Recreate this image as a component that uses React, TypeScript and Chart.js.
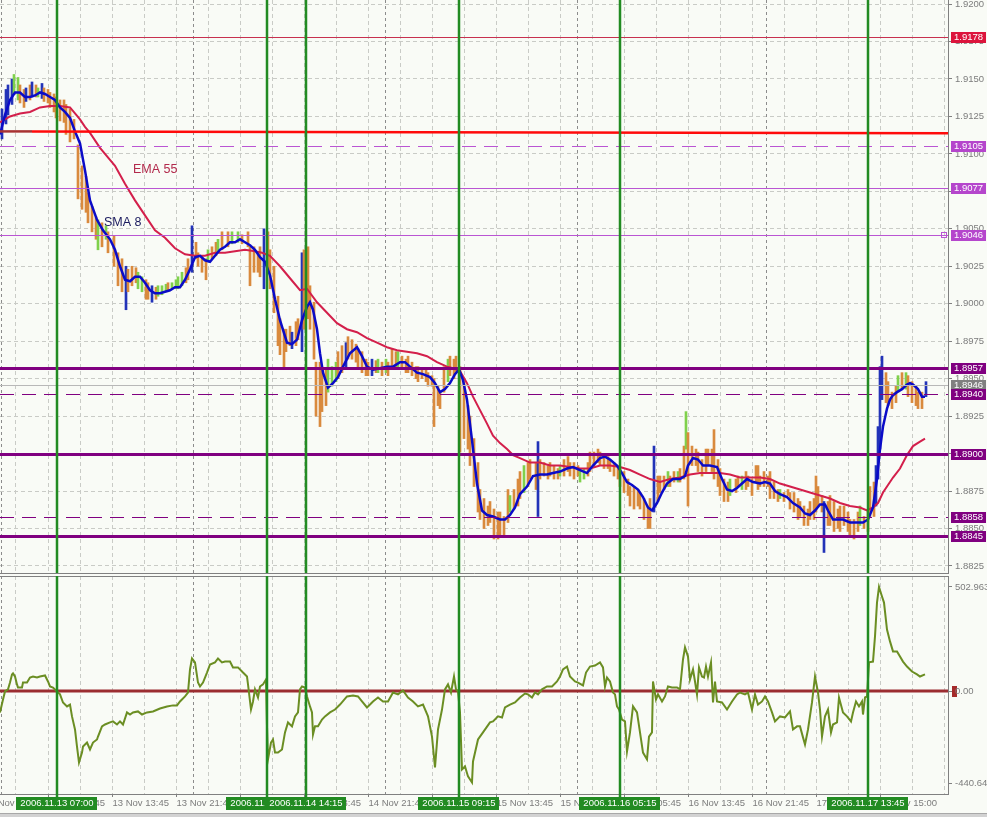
import React, { useEffect, useRef } from "react";
import { Chart, registerables } from "chart.js";
Chart.register(...registerables);

// ---------------- data ----------------
// time axis is in M15 bar units
const X_MIN = 0;
const X_MAX = 474;

// price bars: [bar, high, low, kind]  kind: d = down, u = up, n = navy
const priceBars: [number, number, number, string][] = [
  [1,1.9130,1.9110,"n"],[3,1.9143,1.9120,"n"],[4,1.9146,1.9126,"n"],[6,1.9150,1.9133,"n"],[7,1.9153,1.9140,"u"],
  [9,1.9151,1.9136,"u"],[10,1.9146,1.9134,"d"],[12,1.9143,1.9131,"d"],[13,1.9144,1.9135,"n"],[15,1.9146,1.9136,"d"],
  [16,1.9148,1.9138,"n"],[18,1.9146,1.9138,"d"],[19,1.9144,1.9138,"u"],[21,1.9147,1.9137,"n"],[22,1.9144,1.9135,"d"],
  [24,1.9143,1.9134,"d"],[25,1.9141,1.9131,"d"],[27,1.9140,1.9128,"d"],[28,1.9138,1.9124,"d"],[30,1.9136,1.9122,"d"],
  [32,1.9136,1.9121,"d"],[33,1.9133,1.9113,"d"],[35,1.9130,1.9108,"d"],[37,1.9123,1.9110,"d"],[39,1.9106,1.9070,"d"],
  [41,1.9092,1.9063,"d"],[43,1.9085,1.9061,"d"],[44,1.9074,1.9054,"d"],[46,1.9065,1.9048,"d"],[48,1.9058,1.9043,"d"],
  [49,1.9056,1.9036,"u"],[51,1.9054,1.9038,"d"],[53,1.9052,1.9043,"u"],[54,1.9048,1.9034,"d"],[57,1.9045,1.9025,"d"],
  [59,1.9034,1.9012,"d"],[61,1.9030,1.9008,"d"],[63,1.9025,1.8996,"n"],[64,1.9023,1.9008,"d"],[66,1.9025,1.9012,"d"],
  [68,1.9024,1.9014,"d"],[69,1.9021,1.9010,"u"],[71,1.9018,1.9008,"u"],[73,1.9016,1.9003,"d"],[74,1.9014,1.9003,"d"],
  [76,1.9012,1.9001,"n"],[78,1.9011,1.9003,"d"],[79,1.9012,1.9005,"u"],[81,1.9012,1.9006,"u"],[83,1.9013,1.9008,"u"],
  [84,1.9014,1.9008,"d"],[86,1.9014,1.9010,"u"],[88,1.9016,1.9010,"u"],[89,1.9018,1.9010,"u"],[91,1.9021,1.9012,"u"],
  [93,1.9024,1.9014,"d"],[94,1.9030,1.9016,"d"],[96,1.9052,1.9021,"n"],[98,1.9041,1.9030,"d"],[99,1.9034,1.9025,"d"],
  [101,1.9032,1.9021,"d"],[103,1.9030,1.9016,"d"],[104,1.9036,1.9028,"u"],[106,1.9038,1.9030,"d"],[108,1.9041,1.9032,"d"],
  [109,1.9043,1.9034,"u"],[111,1.9048,1.9036,"d"],[114,1.9048,1.9038,"d"],[116,1.9048,1.9040,"u"],[119,1.9048,1.9041,"u"],
  [121,1.9046,1.9040,"d"],[124,1.9048,1.9038,"d"],[125,1.9038,1.9012,"d"],[127,1.9038,1.9021,"d"],[129,1.9034,1.9021,"d"],
  [130,1.9038,1.9018,"d"],[132,1.9050,1.9010,"n"],[134,1.9048,1.9021,"d"],[135,1.9036,1.9010,"d"],[137,1.9025,1.8994,"d"],
  [139,1.9005,1.8972,"d"],[140,1.8990,1.8966,"d"],[142,1.8983,1.8958,"d"],[143,1.8983,1.8968,"d"],[145,1.8985,1.8972,"d"],
  [146,1.8981,1.8970,"n"],[148,1.8988,1.8972,"d"],[149,1.8990,1.8976,"d"],[151,1.9034,1.8968,"n"],[152,1.9036,1.8983,"d"],
  [154,1.9038,1.8990,"d"],[155,1.9012,1.8983,"d"],[157,1.9001,1.8963,"d"],[158,1.8961,1.8925,"d"],[160,1.8961,1.8918,"d"],
  [161,1.8956,1.8928,"d"],[163,1.8956,1.8932,"d"],[164,1.8963,1.8941,"u"],[166,1.8958,1.8945,"u"],[168,1.8961,1.8948,"u"],
  [169,1.8968,1.8950,"d"],[171,1.8972,1.8954,"d"],[173,1.8974,1.8956,"n"],[174,1.8978,1.8963,"d"],[176,1.8976,1.8963,"d"],
  [178,1.8973,1.8961,"d"],[179,1.8970,1.8956,"d"],[181,1.8968,1.8954,"d"],[183,1.8963,1.8952,"d"],[184,1.8961,1.8952,"d"],
  [186,1.8963,1.8952,"n"],[188,1.8962,1.8954,"d"],[189,1.8963,1.8954,"u"],[191,1.8961,1.8952,"d"],[193,1.8963,1.8954,"u"],
  [194,1.8961,1.8952,"d"],[196,1.8970,1.8956,"d"],[198,1.8968,1.8958,"d"],[199,1.8968,1.8958,"u"],[201,1.8965,1.8956,"d"],
  [203,1.8963,1.8954,"d"],[204,1.8965,1.8954,"d"],[206,1.8961,1.8952,"d"],[208,1.8958,1.8950,"d"],[209,1.8958,1.8948,"d"],
  [211,1.8956,1.8950,"d"],[213,1.8956,1.8948,"d"],[214,1.8954,1.8945,"d"],[216,1.8952,1.8945,"d"],[217,1.8950,1.8918,"d"],
  [219,1.8945,1.8932,"d"],[220,1.8941,1.8930,"d"],[222,1.8958,1.8941,"d"],[224,1.8963,1.8948,"u"],[225,1.8965,1.8952,"d"],
  [227,1.8963,1.8950,"d"],[228,1.8965,1.8954,"d"],[230,1.8958,1.8901,"d"],[232,1.8948,1.8910,"d"],[234,1.8932,1.8903,"d"],
  [235,1.8925,1.8892,"d"],[237,1.8910,1.8878,"d"],[239,1.8894,1.8861,"d"],[240,1.8876,1.8856,"d"],[242,1.8870,1.8850,"d"],
  [244,1.8865,1.8852,"d"],[245,1.8868,1.8854,"d"],[247,1.8863,1.8843,"d"],[249,1.8861,1.8843,"d"],[250,1.8861,1.8845,"d"],
  [252,1.8858,1.8845,"d"],[254,1.8876,1.8854,"d"],[255,1.8872,1.8861,"u"],[257,1.8876,1.8863,"d"],[259,1.8883,1.8865,"d"],
  [260,1.8888,1.8870,"d"],[262,1.8892,1.8874,"u"],[264,1.8894,1.8878,"d"],[265,1.8896,1.8883,"d"],[268,1.8894,1.8876,"d"],
  [269,1.8908,1.8858,"n"],[270,1.8896,1.8883,"d"],[272,1.8894,1.8885,"d"],[274,1.8892,1.8883,"d"],[275,1.8894,1.8885,"d"],
  [277,1.8892,1.8883,"d"],[279,1.8890,1.8883,"d"],[280,1.8892,1.8885,"u"],[282,1.8896,1.8885,"d"],[284,1.8898,1.8888,"d"],
  [285,1.8894,1.8885,"d"],[287,1.8894,1.8883,"d"],[289,1.8892,1.8885,"d"],[290,1.8890,1.8881,"u"],[292,1.8890,1.8883,"u"],
  [294,1.8894,1.8885,"d"],[295,1.8901,1.8888,"d"],[297,1.8901,1.8892,"d"],[299,1.8903,1.8894,"d"],[300,1.8901,1.8892,"d"],
  [302,1.8898,1.8890,"d"],[304,1.8898,1.8890,"d"],[305,1.8896,1.8888,"d"],[307,1.8894,1.8885,"d"],[309,1.8892,1.8883,"d"],
  [310,1.8890,1.8878,"d"],[312,1.8888,1.8874,"d"],[314,1.8883,1.8872,"d"],[315,1.8878,1.8865,"d"],[317,1.8878,1.8863,"d"],
  [319,1.8876,1.8865,"d"],[320,1.8874,1.8863,"d"],[322,1.8870,1.8856,"d"],[324,1.8865,1.8850,"d"],[325,1.8870,1.8850,"d"],
  [327,1.8905,1.8861,"n"],[329,1.8885,1.8868,"d"],[330,1.8885,1.8874,"d"],[332,1.8885,1.8876,"d"],[334,1.8888,1.8878,"u"],
  [335,1.8885,1.8878,"d"],[337,1.8888,1.8881,"d"],[339,1.8888,1.8881,"u"],[340,1.8890,1.8881,"d"],[342,1.8905,1.8883,"d"],
  [343,1.8928,1.8903,"u"],[344,1.8914,1.8865,"d"],[346,1.8905,1.8892,"d"],[348,1.8903,1.8892,"d"],[349,1.8901,1.8888,"d"],
  [351,1.8896,1.8885,"d"],[353,1.8903,1.8888,"d"],[354,1.8903,1.8892,"d"],[356,1.8903,1.8888,"d"],[357,1.8916,1.8883,"d"],
  [359,1.8896,1.8878,"d"],[360,1.8890,1.8872,"d"],[362,1.8883,1.8868,"d"],[364,1.8881,1.8868,"d"],[365,1.8883,1.8872,"u"],
  [368,1.8883,1.8874,"d"],[369,1.8885,1.8878,"d"],[371,1.8885,1.8876,"u"],[373,1.8888,1.8876,"d"],[374,1.8885,1.8878,"d"],
  [376,1.8883,1.8872,"d"],[378,1.8892,1.8881,"d"],[379,1.8892,1.8876,"d"],[380,1.8885,1.8878,"d"],[382,1.8888,1.8878,"d"],
  [384,1.8885,1.8878,"d"],[385,1.8888,1.8870,"d"],[387,1.8881,1.8870,"d"],[389,1.8876,1.8868,"d"],[390,1.8876,1.8870,"u"],
  [392,1.8874,1.8868,"d"],[394,1.8876,1.8872,"d"],[395,1.8874,1.8863,"d"],[397,1.8874,1.8861,"d"],[399,1.8870,1.8856,"d"],
  [400,1.8868,1.8858,"d"],[402,1.8865,1.8852,"d"],[404,1.8863,1.8852,"d"],[405,1.8868,1.8856,"d"],[407,1.8870,1.8856,"d"],
  [408,1.8885,1.8861,"d"],[409,1.8878,1.8865,"d"],[411,1.8872,1.8861,"d"],[412,1.8868,1.8834,"n"],[414,1.8868,1.8852,"d"],
  [415,1.8872,1.8852,"d"],[417,1.8868,1.8848,"d"],[419,1.8863,1.8850,"d"],[420,1.8865,1.8848,"d"],[422,1.8865,1.8852,"d"],
  [424,1.8861,1.8848,"d"],[425,1.8856,1.8845,"d"],[427,1.8856,1.8843,"d"],[429,1.8861,1.8848,"d"],[430,1.8865,1.8852,"u"],
  [432,1.8858,1.8850,"d"],[434,1.8863,1.8848,"d"],[435,1.8878,1.8858,"d"],[437,1.8881,1.8858,"d"],[438,1.8892,1.8865,"n"],
  [439,1.8918,1.8883,"n"],[440,1.8958,1.8903,"n"],[441,1.8965,1.8936,"n"],[443,1.8954,1.8934,"d"],[444,1.8948,1.8932,"d"],
  [446,1.8941,1.8930,"d"],[448,1.8945,1.8934,"d"],[449,1.8952,1.8941,"u"],[451,1.8954,1.8943,"d"],[453,1.8954,1.8943,"u"],
  [454,1.8952,1.8938,"d"],[456,1.8948,1.8934,"d"],[458,1.8945,1.8932,"d"],[459,1.8941,1.8930,"d"],[461,1.8941,1.8930,"d"],
  [463,1.8948,1.8938,"n"],
];

// SMA 8: [bar, value]
const smaPoints: [number, number][] = [
  [0,1.9113],[2.5,1.9126],[5,1.9136],[7.5,1.9141],[10,1.9141],[12.5,1.9138],[15,1.9138],[17.5,1.9139],[20,1.9141],
  [22.5,1.9140],[25,1.9138],[27.5,1.9136],[30,1.9131],[32.5,1.9128],[35,1.9124],[37.5,1.9115],[40,1.9107],[42.5,1.9089],
  [45,1.9069],[48.5,1.9056],[51.5,1.9049],[55,1.9043],[57.5,1.9036],[60,1.9025],[62.5,1.9016],[65,1.9015],[67.5,1.9018],
  [70,1.9018],[72.5,1.9014],[75,1.9009],[77.5,1.9007],[80,1.9007],[82.5,1.9008],[85,1.9009],[87.5,1.9011],[90,1.9011],
  [92.5,1.9016],[95,1.9023],[97.5,1.9031],[100,1.9032],[102.5,1.9029],[105,1.9028],[107.5,1.9032],[110,1.9036],
  [112.5,1.9038],[115,1.9041],[117.5,1.9041],[120,1.9043],[122.5,1.9041],[125,1.9039],[127.5,1.9036],[130,1.9031],
  [132.5,1.9028],[135,1.9019],[137.5,1.9003],[140,1.8989],[143.5,1.8974],[146,1.8973],[148.5,1.8976],[151,1.8989],
  [153.5,1.8998],[155,1.9001],[156.5,1.8996],[158.5,1.8983],[160,1.8967],[161.5,1.8954],[164,1.8944],[166.5,1.8947],
  [169,1.8951],[171.5,1.8958],[175,1.8967],[178.5,1.8971],[181,1.8965],[183.5,1.8958],[186.5,1.8956],[190,1.8957],
  [193.5,1.8958],[196.5,1.8958],[200,1.8961],[202.5,1.8961],[205,1.8958],[208.5,1.8954],[211.5,1.8953],[215,1.8951],
  [217.5,1.8947],[220,1.8941],[222.5,1.8943],[225,1.8947],[227.5,1.8953],[229.5,1.8956],[231.5,1.8949],[233.5,1.8936],
  [236,1.8909],[238.5,1.8880],[241,1.8862],[243.5,1.8859],[246.5,1.8858],[250,1.8856],[252.5,1.8856],[255,1.8859],
  [257.5,1.8864],[260,1.8873],[263.5,1.8878],[266.5,1.8885],[270,1.8886],[273.5,1.8886],[276.5,1.8887],[280,1.8888],
  [283.5,1.8890],[286.5,1.8891],[290,1.8889],[293.5,1.8887],[296.5,1.8892],[300,1.8897],[302.5,1.8898],[305,1.8896],
  [308.5,1.8892],[311,1.8887],[313.5,1.8881],[316,1.8879],[319,1.8876],[321.5,1.8871],[324,1.8864],[326,1.8862],
  [328.5,1.8867],[331,1.8874],[333.5,1.8880],[336.5,1.8883],[340,1.8883],[342.5,1.8885],[344,1.8892],[346.5,1.8897],
  [349,1.8896],[351.5,1.8892],[355,1.8892],[358.5,1.8891],[361,1.8883],[363.5,1.8876],[366,1.8875],[368.5,1.8877],
  [371,1.8880],[373.5,1.8883],[376.5,1.8881],[380,1.8880],[382.5,1.8881],[385,1.8880],[387.5,1.8875],[390,1.8873],
  [393.5,1.8871],[396.5,1.8867],[400,1.8864],[402.5,1.8860],[405,1.8859],[407.5,1.8862],[410,1.8866],[412.5,1.8866],
  [414,1.8862],[416.5,1.8856],[419,1.8856],[421.5,1.8856],[425,1.8854],[428.5,1.8854],[431.5,1.8854],[434,1.8856],
  [436.5,1.8864],[438.5,1.8883],[440,1.8903],[441.5,1.8918],[443.5,1.8930],[445,1.8936],[446.5,1.8939],[448.5,1.8941],
  [451,1.8943],[453.5,1.8946],[455,1.8947],[456.5,1.8946],[459,1.8943],[461,1.8938],[462.5,1.8938],
];

// EMA 55: [bar, value]
const emaPoints: [number, number][] = [
  [0,1.9121],[5,1.9125],[10,1.9127],[15,1.9128],[20,1.9131],[25,1.9132],[30,1.9132],[35,1.9131],[37.5,1.9127],
  [40,1.9123],[42.5,1.9118],[45,1.9114],[47.5,1.9109],[50,1.9104],[55,1.9096],[57.5,1.9092],[62.5,1.9080],[67.5,1.9069],
  [72.5,1.9059],[77.5,1.9049],[82.5,1.9044],[87.5,1.9037],[92.5,1.9033],[97.5,1.9032],[102.5,1.9032],[107.5,1.9034],
  [112.5,1.9034],[117.5,1.9035],[122.5,1.9036],[127.5,1.9035],[131,1.9034],[135,1.9032],[140,1.9025],[145,1.9017],
  [150,1.9009],[153.5,1.9010],[158.5,1.9001],[163.5,1.8994],[168.5,1.8987],[173.5,1.8983],[178.5,1.8981],[183.5,1.8977],
  [188.5,1.8974],[193.5,1.8971],[198.5,1.8969],[203.5,1.8968],[208.5,1.8967],[213.5,1.8965],[218.5,1.8961],[223.5,1.8958],
  [226.5,1.8957],[230,1.8955],[233.5,1.8947],[236.5,1.8938],[240,1.8929],[243.5,1.8920],[246.5,1.8912],[250,1.8907],
  [253.5,1.8903],[256.5,1.8899],[260,1.8897],[265,1.8894],[270,1.8894],[275,1.8892],[280,1.8892],[285,1.8891],
  [290,1.8890],[295,1.8890],[300,1.8892],[305,1.8892],[310,1.8891],[315,1.8889],[320,1.8886],[325,1.8883],[330,1.8881],
  [335,1.8883],[340,1.8884],[345,1.8886],[350,1.8887],[355,1.8887],[360,1.8887],[365,1.8886],[370,1.8884],[375,1.8884],
  [380,1.8884],[385,1.8883],[390,1.8880],[395,1.8878],[400,1.8876],[405,1.8874],[410,1.8872],[415,1.8870],[420,1.8867],
  [425,1.8865],[430,1.8864],[433.5,1.8862],[436.5,1.8864],[439,1.8867],[441.5,1.8874],[444,1.8879],[446.5,1.8884],
  [450,1.8890],[453.5,1.8899],[456.5,1.8905],[460,1.8908],[462.5,1.8910],
];

// trend lines: [bar, price]
const trendOld: [number, number][] = [[0,1.9115],[16,1.9115]];
const trendMain: [number, number][] = [[16,1.9115],[474,1.91137]];

// oscillator (lower panel): [bar, value]
const oscPoints: [number, number][] = [
  [0,-101],[1.5,-39],[2.5,0],[4,10],[5,43],[6,82],[6.5,87],[7.5,72],[8.5,34],[9,19],[11,19],[11.5,43],[13.5,43],[15,67],
  [16.5,72],[18.5,67],[20,72],[22.5,77],[24,48],[25,24],[26.5,19],[28.5,0],[30,-14],[31.5,-53],[33.5,-72],[35,-63],
  [36,-120],[37.5,-183],[38.5,-265],[39.5,-342],[41,-294],[41.5,-265],[43.5,-246],[45,-279],[46.5,-246],[48.5,-231],
  [49,-217],[51,-168],[52.5,-159],[55,-149],[56.5,-144],[58.5,-159],[60,-144],[61.5,-159],[63.5,-101],[65,-111],
  [66.5,-101],[69,-96],[71,-111],[73.5,-101],[76.5,-96],[80,-82],[83.5,-72],[86.5,-67],[88.5,-67],[90,-48],[92.5,-24],
  [94,-5],[95,106],[96,159],[97.5,140],[99,43],[100,24],[101.5,43],[103.5,91],[105,130],[107.5,140],[109,159],[111,140],
  [112.5,144],[115,144],[116.5,116],[119,116],[121.5,91],[123.5,72],[124,34],[125.5,-87],[126.5,-48],[127.5,10],
  [129,-29],[130,24],[131.5,34],[133,58],[133.5,-168],[134,-327],[135.5,-246],[136.5,-231],[137.5,-294],[139,-294],
  [141,-279],[142.5,-197],[144,-149],[146,-168],[147.5,-120],[149,-101],[150,10],[151,24],[152.5,19],[153.5,-24],
  [155,-72],[156,-101],[156.5,-207],[157.5,-168],[159,-168],[161,-135],[162.5,-120],[165,-101],[167.5,-87],[170,-63],
  [173.5,-24],[176.5,-19],[179,-24],[181,-48],[183.5,-77],[185,-63],[186.5,-48],[189,-29],[191.5,-48],[194,-48],
  [196.5,-5],[199,-14],[201.5,5],[204,-29],[206.5,-48],[209,-72],[211.5,-63],[214,-120],[216,-217],[217.5,-366],
  [219,-183],[221,-87],[222.5,10],[224,34],[225.5,-5],[227,72],[228,10],[229,0],[230,-101],[231,-375],[232.5,-361],
  [234,-409],[236,-438],[236.5,-337],[239,-231],[241.5,-197],[245,-149],[246.5,-144],[249,-120],[251,-125],[252.5,-77],
  [255,-63],[257.5,-53],[260,-29],[262.5,-10],[264,-14],[266,-29],[267.5,-5],[269,-14],[271,10],[273.5,24],[276,24],
  [278.5,48],[280,72],[281.5,106],[283.5,120],[285,72],[287.5,48],[289,43],[291.5,29],[293,91],[295,120],[297.5,125],
  [300,140],[301.5,116],[302.5,24],[303.5,67],[305,48],[306.5,-5],[307.5,-14],[308.5,-72],[309.5,-87],[311,-135],
  [312.5,-144],[313.5,-289],[315,-197],[316.5,-72],[318.5,-101],[320,-197],[321.5,-294],[323.5,-327],[324.5,-217],
  [326,-197],[326.5,48],[328,-39],[329,-14],[331,-48],[332.5,-24],[334,24],[336,19],[338.5,19],[340,10],[341.5,154],
  [342.5,212],[344,168],[345,58],[346.5,106],[347.5,48],[348.5,-14],[349.5,116],[351,72],[352,67],[353,120],[354,72],
  [355.5,140],[356.5,-53],[357.5,48],[358.5,-48],[361,-53],[363.5,-87],[366,-48],[368.5,-14],[370,-5],[372.5,-14],
  [374,-5],[376,-87],[377.5,-14],[379,-63],[381,-48],[382.5,-24],[384,-48],[386,-101],[387.5,-144],[390,-120],
  [392.5,-125],[395,-96],[396.5,-183],[398.5,-168],[400,-168],[401.5,-221],[402.5,-255],[404,-183],[406,-53],[407.5,72],
  [409,-5],[410,-87],[411,-217],[412.5,-120],[414,-87],[415.5,-197],[416.5,-159],[418.5,-149],[419.5,-29],[421.5,-101],
  [423.5,-120],[425.5,-144],[426.5,-101],[428,-48],[429.5,-72],[431,-48],[431.5,-111],[432.5,-29],[433.5,-24],
  [434.5,140],[436.5,144],[437.5,265],[438.5,428],[439.5,503],[441,457],[442,428],[443.5,298],[445,241],[446.5,193],
  [448.5,193],[450,168],[451.5,144],[453.5,120],[456,96],[458.5,82],[460,72],[462.5,82],
];

// axes
const priceTicks = [1.8825,1.885,1.8875,1.89,1.8925,1.895,1.8975,1.9,1.9025,1.905,1.9075,1.91,1.9125,1.915,1.9175,1.92];
const oscTicks = [-440.644, 0, 502.963];
const oscTickLabels = ["-440.644", "0.00", "502.963"];
const gridBars = [8,24,40,56,72,88,104,120,136,152,168,184,200,216,232,248,264,280,296,312,328,344,360,376,392,408,424,440,456,472];
const daySepBars = [0.5, 96.5, 192.5, 288.5, 383];
const timeTickBars = [-8,24,56,88,120,152,184,216,248,280,312,344,376,408,440];
const timeTickLabels = ["12 Nov 21:45","13 Nov 05:45","13 Nov 13:45","13 Nov 21:45","14 Nov 05:45","14 Nov 13:45","14 Nov 21:45",
  "15 Nov 05:45","15 Nov 13:45","15 Nov 21:45","16 Nov 05:45","16 Nov 13:45","16 Nov 21:45","17 Nov 05:45","17 Nov 15:00"];

// vertical event lines
const eventBars = [28.5, 133.5, 153, 229.5, 310, 434];
const eventLabels = ["2006.11.13 07:00","2006.11.14 09:15","2006.11.14 14:15","2006.11.15 09:15","2006.11.16 05:15","2006.11.17 13:45"];

// horizontal price levels
const levelPrices = [1.9178, 1.9105, 1.9077, 1.9046, 1.8957, 1.8946, 1.8940, 1.8900, 1.8858, 1.8845];

// text notes on the chart
const noteTexts = ["EMA 55", "SMA 8"];
const noteBars = [66.5, 52];
const notePrices = [1.90893, 1.90539];

// ---------------- styles ----------------
const FONT = '"Liberation Sans", Arial, sans-serif';
const BG = "#f9fbf6";
const GRID = "#c9cbc6";
const AXIS = "#808080";
const TXT = "#7c7c7c";
const GREEN = "#228b22";
const ORCHID = "#ba55d3";
const PURPLE = "#800080";
const BAR_COLORS: Record<string, string> = { d: "#d98a3d", u: "#7fd14b", n: "#2233b8" };
const levelStyles = [
  { color: "#c8304f", width: 1, dash: [] as number[], box: "#dc143c", marker: false },
  { color: ORCHID, width: 1, dash: [14, 8], box: "#b546cc", marker: false },
  { color: ORCHID, width: 1, dash: [], box: "#b546cc", marker: false },
  { color: ORCHID, width: 1, dash: [], box: "#b546cc", marker: true },
  { color: PURPLE, width: 3, dash: [], box: PURPLE, marker: false },
  { color: "#b8b8b8", width: 1, dash: [], box: "#808080", marker: false },
  { color: PURPLE, width: 1, dash: [14, 8], box: PURPLE, marker: false },
  { color: PURPLE, width: 3, dash: [], box: PURPLE, marker: false },
  { color: PURPLE, width: 1, dash: [14, 8], box: PURPLE, marker: false },
  { color: PURPLE, width: 3, dash: [], box: PURPLE, marker: false },
];
const noteColors = ["#b22a4c", "#1a1a5e"];

const noPad = (s: any) => {
  s.paddingTop = 0; s.paddingBottom = 0; s.paddingLeft = 0; s.paddingRight = 0;
};

function vline(ctx: CanvasRenderingContext2D, x: number, y1: number, y2: number) {
  ctx.beginPath(); ctx.moveTo(x, y1); ctx.lineTo(x, y2); ctx.stroke();
}
function hline(ctx: CanvasRenderingContext2D, y: number, x1: number, x2: number) {
  ctx.beginPath(); ctx.moveTo(x1, y); ctx.lineTo(x2, y); ctx.stroke();
}

function drawDaySeps(chart: any) {
  const { ctx, chartArea: a, scales } = chart;
  ctx.save();
  ctx.strokeStyle = "#8c8c8c"; ctx.lineWidth = 1; ctx.setLineDash([3, 3]);
  daySepBars.forEach((b) => {
    const px = Math.round(scales.x.getPixelForValue(b)) + 0.5;
    if (px >= a.left && px <= a.right) vline(ctx, px, a.top, a.bottom);
  });
  ctx.restore();
}

function drawEvents(chart: any, extra: number) {
  const { ctx, chartArea: a, scales } = chart;
  ctx.save();
  ctx.strokeStyle = GREEN; ctx.lineWidth = 2.5; ctx.setLineDash([]);
  eventBars.forEach((b) => {
    const px = Math.round(scales.x.getPixelForValue(b));
    vline(ctx, px, a.top, a.bottom + extra);
  });
  ctx.restore();
}

function xScaleOpts(h: number) {
  return {
    type: "linear", min: X_MIN, max: X_MAX, offset: false,
    afterBuildTicks: (s: any) => { s.ticks = gridBars.map((v) => ({ value: v })); },
    ticks: { display: false },
    grid: { offset: false, color: GRID, lineWidth: 1, drawTicks: false },
    border: { display: true, color: AXIS, width: 1, dash: [4, 3] },
    afterFit: (s: any) => { s.height = h; noPad(s); },
  };
}

export default function App() {
  const mainRef = useRef<HTMLCanvasElement | null>(null);
  const oscRef = useRef<HTMLCanvasElement | null>(null);

  useEffect(() => {
    document.body.style.margin = "0";
    document.body.style.background = BG;

    const bgPlugin = {
      id: "bg",
      beforeDraw(chart: any) {
        const { ctx, width, height } = chart;
        ctx.save(); ctx.fillStyle = BG; ctx.fillRect(0, 0, width, height); ctx.restore();
      },
    };

    // ---------- main price chart ----------
    const mainPlugin = {
      id: "mainObjects",
      beforeDatasetsDraw(chart: any) { drawDaySeps(chart); },
      afterDatasetsDraw(chart: any) {
        const { ctx, chartArea: a, scales } = chart;
        ctx.save();
        ctx.beginPath(); ctx.rect(a.left, a.top, a.right - a.left, a.bottom - a.top); ctx.clip();
        levelPrices.forEach((p, i) => {
          const st = levelStyles[i];
          const py = scales.y.getPixelForValue(p);
          const yy = st.width % 2 === 1 ? Math.round(py) + 0.5 : Math.round(py);
          ctx.strokeStyle = st.color; ctx.lineWidth = st.width; ctx.setLineDash(st.dash);
          hline(ctx, yy, a.left, a.right);
          if (st.marker) {
            ctx.setLineDash([]); ctx.lineWidth = 1;
            ctx.strokeRect(a.right - 6.5, Math.round(py) - 2.5, 5, 5);
          }
        });
        ctx.restore();
        drawEvents(chart, 0);
        ctx.save();
        ctx.font = `12.5px ${FONT}`; ctx.textBaseline = "middle"; ctx.textAlign = "left";
        noteTexts.forEach((t, i) => {
          ctx.fillStyle = noteColors[i];
          ctx.fillText(t, scales.x.getPixelForValue(noteBars[i]), scales.y.getPixelForValue(notePrices[i]));
        });
        ctx.restore();
      },
      afterDraw(chart: any) {
        const { ctx, chartArea: a, scales } = chart;
        ctx.save();
        ctx.font = `9.5px ${FONT}`; ctx.textBaseline = "middle"; ctx.textAlign = "left";
        levelPrices.forEach((p, i) => {
          const st = levelStyles[i];
          const py = Math.round(scales.y.getPixelForValue(p));
          ctx.fillStyle = st.box; ctx.fillRect(a.right + 3, py - 5, 35, 11);
          ctx.fillStyle = "#ffffff"; ctx.fillText(p.toFixed(4), a.right + 6, py + 0.5);
        });
        ctx.restore();
      },
    };

    const main = new Chart(mainRef.current as HTMLCanvasElement, {
      type: "line",
      data: {
        datasets: [
          {
            type: "bar",
            data: priceBars.map((b) => ({ x: b[0], y: [b[2], b[1]] })) as any,
            backgroundColor: priceBars.map((b) => BAR_COLORS[b[3]]),
            barThickness: 2, borderWidth: 0, grouped: false, order: 5,
          } as any,
          { type: "line", data: emaPoints.map((p) => ({ x: p[0], y: p[1] })), borderColor: "#d31f4b", borderWidth: 2, pointRadius: 0, tension: 0, order: 4 },
          { type: "line", data: smaPoints.map((p) => ({ x: p[0], y: p[1] })), borderColor: "#0b0bc8", borderWidth: 2.5, pointRadius: 0, tension: 0, order: 3 },
          { type: "line", data: trendOld.map((p) => ({ x: p[0], y: p[1] })), borderColor: "#a83232", borderWidth: 2.5, pointRadius: 0, order: 2 },
          { type: "line", data: trendMain.map((p) => ({ x: p[0], y: p[1] })), borderColor: "#ff0a0a", borderWidth: 2.5, pointRadius: 0, order: 1 },
        ],
      },
      options: {
        responsive: false, animation: false, events: [],
        layout: { padding: { top: 0, bottom: 1, left: 0, right: 0 } },
        plugins: { legend: { display: false }, tooltip: { enabled: false } },
        scales: {
          x: xScaleOpts(0) as any,
          y: {
            type: "linear", position: "right", min: 1.88203, max: 1.92027, beginAtZero: false,
            afterBuildTicks: (s: any) => { s.ticks = priceTicks.map((v) => ({ value: v })); },
            ticks: { color: TXT, font: { family: FONT, size: 9.5 }, padding: 3, autoSkip: false, callback: (v: any) => Number(v).toFixed(4) },
            grid: { color: GRID, lineWidth: 1, drawTicks: true, tickLength: 4, tickColor: AXIS, tickWidth: 1 },
            border: { display: true, color: AXIS, width: 1, dash: [4, 3] },
            afterFit: (s: any) => { s.width = 39; noPad(s); },
          } as any,
        },
      },
      plugins: [bgPlugin, mainPlugin],
    });

    // ---------- oscillator panel ----------
    const oscPlugin = {
      id: "oscObjects",
      beforeDraw(chart: any) {
        const { ctx, chartArea: a, scales } = chart;
        if (!a) return;
        const py = Math.round(scales.y.getPixelForValue(0));
        ctx.save(); ctx.fillStyle = "#a52a2a"; ctx.fillRect(a.right + 4, py - 5, 5, 11); ctx.restore();
      },
      beforeDatasetsDraw(chart: any) {
        const { ctx, chartArea: a, scales } = chart;
        drawDaySeps(chart);
        ctx.save();
        ctx.strokeStyle = "#9b2d30"; ctx.lineWidth = 3; ctx.setLineDash([]);
        hline(ctx, Math.round(scales.y.getPixelForValue(0)), a.left, a.right);
        ctx.strokeStyle = AXIS; ctx.lineWidth = 1;
        hline(ctx, a.top + 0.5, 0, a.right);
        ctx.restore();
      },
      afterDatasetsDraw(chart: any) { drawEvents(chart, 3); },
      afterDraw(chart: any) {
        const { ctx, chartArea: a, scales, width, height } = chart;
        const base = a.bottom;
        ctx.save();
        ctx.font = `9.5px ${FONT}`; ctx.textBaseline = "middle";
        ctx.strokeStyle = AXIS; ctx.lineWidth = 1;
        timeTickBars.forEach((b, i) => {
          const px = Math.round(scales.x.getPixelForValue(b)) + 0.5;
          if (px >= 0) vline(ctx, px, base, base + 3);
          ctx.fillStyle = TXT; ctx.textAlign = "left";
          ctx.fillText(timeTickLabels[i], px, base + 9.5);
        });
        eventBars.forEach((b, i) => {
          const px = Math.round(scales.x.getPixelForValue(b));
          const w = Math.round(ctx.measureText(eventLabels[i]).width + 8);
          ctx.fillStyle = GREEN; ctx.fillRect(px - Math.round(w / 2), base + 3, w, 13);
          ctx.fillStyle = "#ffffff"; ctx.textAlign = "center";
          ctx.fillText(eventLabels[i], px, base + 9.5);
        });
        ctx.fillStyle = "#d2d2d2"; ctx.fillRect(0, height - 4, width, 4);
        ctx.fillStyle = "#a8a8a8"; ctx.fillRect(0, height - 4, width, 1);
        ctx.restore();
      },
    };

    const osc = new Chart(oscRef.current as HTMLCanvasElement, {
      type: "line",
      data: {
        datasets: [
          { data: oscPoints.map((p) => ({ x: p[0], y: p[1] })), borderColor: "#6b8e23", borderWidth: 2, pointRadius: 0, tension: 0 },
        ],
      },
      options: {
        responsive: false, animation: false, events: [],
        layout: { padding: { top: 2, bottom: 0, left: 0, right: 0 } },
        plugins: { legend: { display: false }, tooltip: { enabled: false } },
        scales: {
          x: xScaleOpts(23) as any,
          y: {
            type: "linear", position: "right", min: -493.6, max: 555.9, beginAtZero: false,
            afterBuildTicks: (s: any) => { s.ticks = oscTicks.map((v) => ({ value: v })); },
            ticks: { color: TXT, font: { family: FONT, size: 9.5 }, padding: 3, autoSkip: false, callback: (_v: any, i: number) => oscTickLabels[i] },
            grid: { display: true, drawOnChartArea: false, drawTicks: true, tickLength: 4, tickColor: AXIS, tickWidth: 1 },
            border: { display: true, color: AXIS, width: 1 },
            afterFit: (s: any) => { s.width = 39; noPad(s); },
          } as any,
        },
      },
      plugins: [bgPlugin, oscPlugin],
    });

    return () => { main.destroy(); osc.destroy(); };
  }, []);

  return (
    <div style={{ position: "absolute", left: 0, top: 0, width: 987, height: 817, background: BG }}>
      <canvas ref={mainRef} width={987} height={574} style={{ display: "block" }} />
      <canvas ref={oscRef} width={987} height={243} style={{ display: "block" }} />
    </div>
  );
}
